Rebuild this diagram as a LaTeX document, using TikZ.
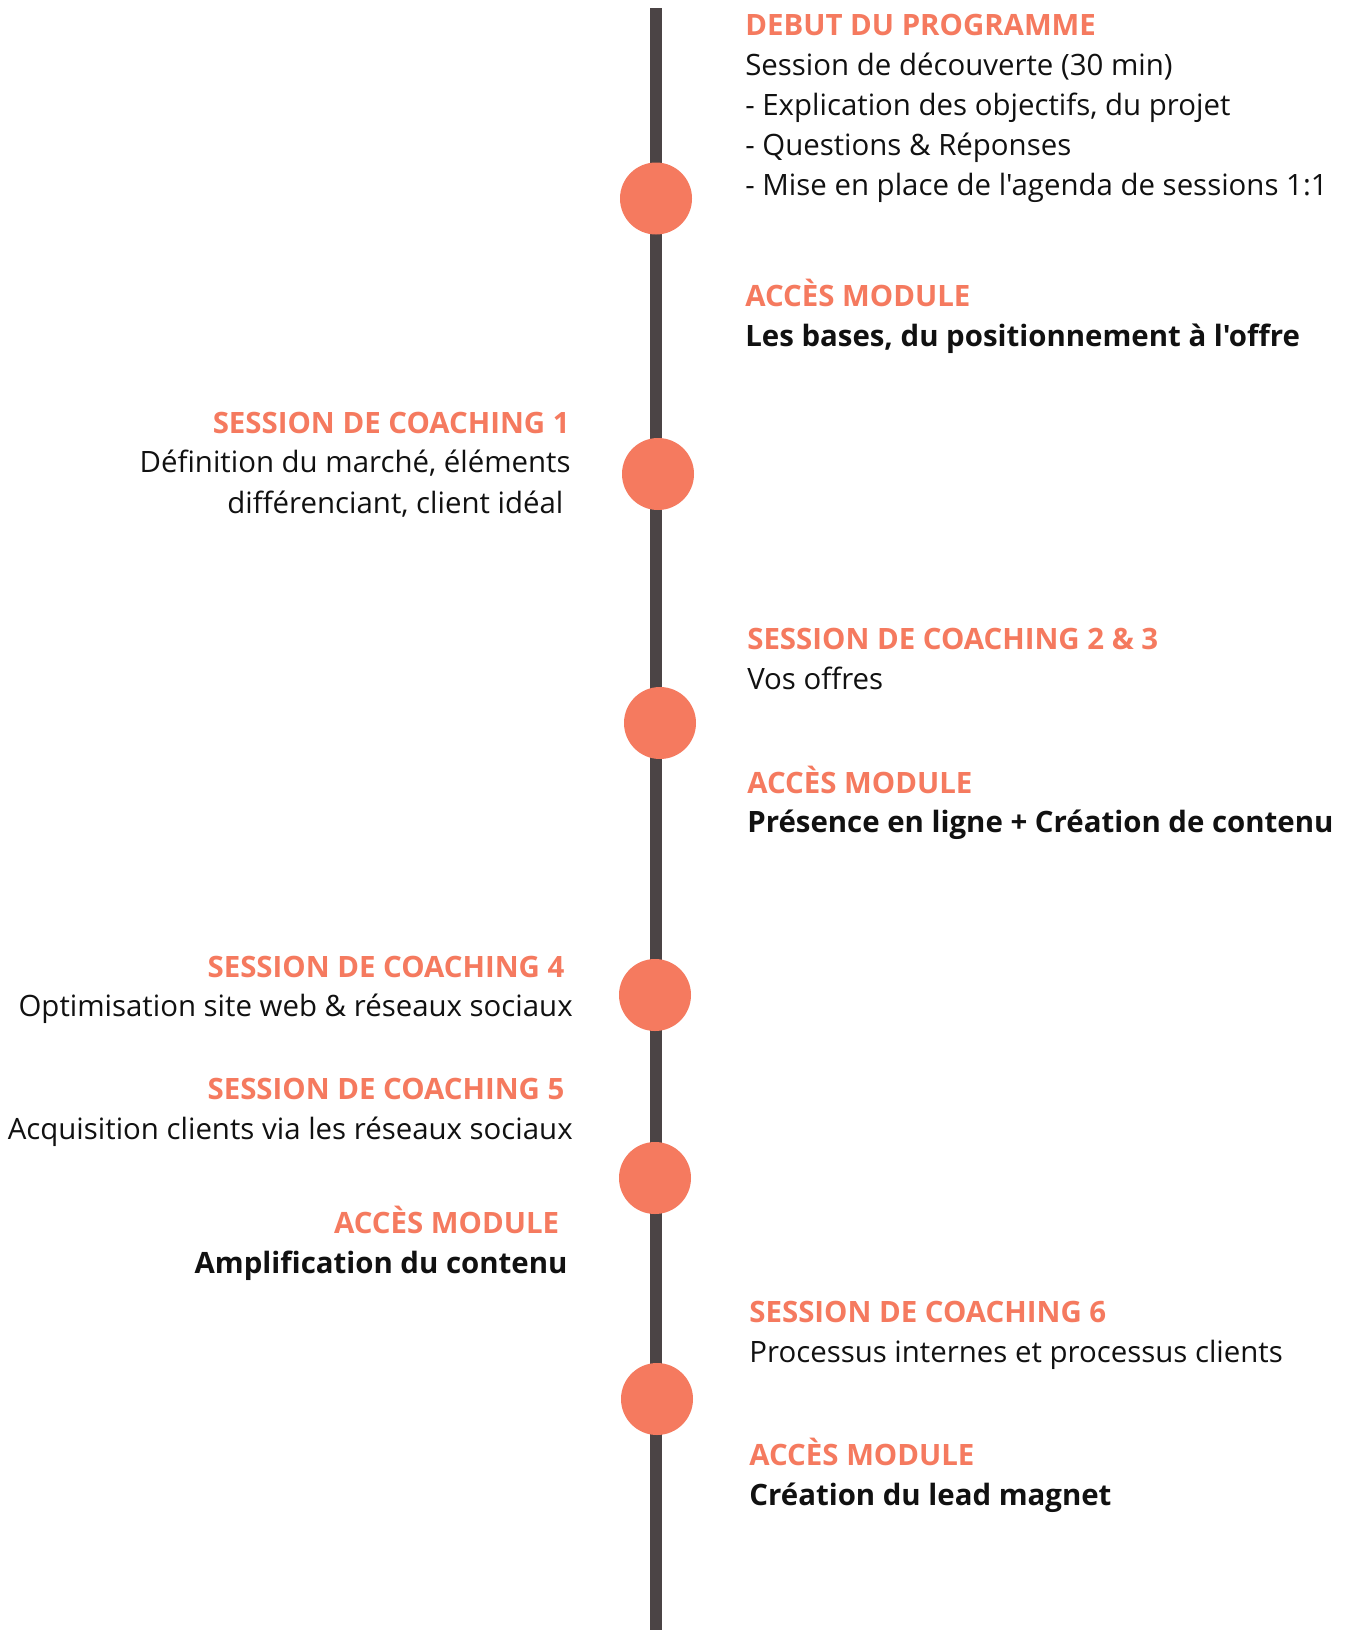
\documentclass[tikz,border=0pt]{standalone}
\usepackage{fontspec}
\setmainfont{Open Sans}[Ligatures=TeXOff]
\definecolor{accent}{HTML}{F57A5F}
\definecolor{bar}{HTML}{4B4445}
\definecolor{txt}{HTML}{111111}
\begin{document}
\begin{tikzpicture}[x=1pt,y=-1pt,
  every node/.style={inner sep=0pt,outer sep=0pt},
  ttl/.style={font=\fontsize{29.4}{35}\selectfont\bfseries,text=accent},
  body/.style={font=\fontsize{29.4}{35}\selectfont,text=txt},
  bbody/.style={font=\fontsize{29.4}{35}\selectfont\bfseries,text=txt},
  dot/.style={circle,fill=accent,minimum size=72pt}]
\useasboundingbox (0,0) rectangle (1345,1630);
\fill[white] (0,0) rectangle (1345,1630);
\coordinate (top) at (656,8);
\coordinate (bot) at (656,1630);
\draw[bar,line width=12.5pt] (top) -- (bot);
\node[dot] (c1) at (656,198.5) {};
\node[dot] (c2) at (658,474) {};
\node[dot] (c3) at (660,723) {};
\node[dot] (c4) at (655,995) {};
\node[dot] (c5) at (655,1178) {};
\node[dot] (c6) at (657,1399) {};
% right side
\node[ttl,anchor=base west] (t1) at (745.3,35.3) {DEBUT DU PROGRAMME};
\node[body,anchor=base west] (t1a) at (745.3,75.9) {Session de découverte (30 min)};
\node[body,anchor=base west] (t1b) at (745.3,115.4) {- Explication des objectifs, du projet};
\node[body,anchor=base west] (t1c) at (745.3,155.9) {- Questions \& Réponses};
\node[body,anchor=base west] (t1d) at (745.3,195.4) {- Mise en place de l'agenda de sessions 1:1};
\node[ttl,anchor=base west] (t2) at (745.3,306.6) {ACCÈS MODULE};
\node[bbody,anchor=base west] (t2a) at (745.3,346.1) {Les bases, du positionnement à l'offre};
\node[ttl,anchor=base west] (t3) at (747.3,649.6) {SESSION DE COACHING 2 \& 3};
\node[body,anchor=base west] (t3a) at (747.3,689.1) {Vos offres};
\node[ttl,anchor=base west] (t4) at (747.3,793.1) {ACCÈS MODULE};
\node[bbody,anchor=base west] (t4a) at (747.3,832.6) {Présence en ligne + Création de contenu};
\node[ttl,anchor=base west] (t5) at (749.4,1322.1) {SESSION DE COACHING 6};
\node[body,anchor=base west] (t5a) at (749.4,1362.7) {Processus internes et processus clients};
\node[ttl,anchor=base west] (t6) at (749.4,1465.6) {ACCÈS MODULE};
\node[bbody,anchor=base west] (t6a) at (749.4,1505.1) {Création du lead magnet};
% left side
\node[ttl,anchor=base east] (l1) at (569.6,433.4) {SESSION DE COACHING 1};
\node[body,anchor=base east] (l1a) at (570.6,472.9) {Définition du marché, éléments};
\node[body,anchor=base east] (l1b) at (563.4,513.5) {différenciant, client idéal};
\node[ttl,anchor=base east] (l2) at (564.4,977) {SESSION DE COACHING 4};
\node[body,anchor=base east] (l2a) at (572.7,1016.5) {Optimisation site web \& réseaux sociaux};
\node[ttl,anchor=base east] (l3) at (564.4,1099.7) {SESSION DE COACHING 5};
\node[body,anchor=base east] (l3a) at (572.7,1139.2) {Acquisition clients via les réseaux sociaux};
\node[ttl,anchor=base east] (l4) at (559.2,1233.8) {ACCÈS MODULE};
\node[bbody,anchor=base east] (l4a) at (567.5,1273.3) {Amplification du contenu};
\end{tikzpicture}
\end{document}
